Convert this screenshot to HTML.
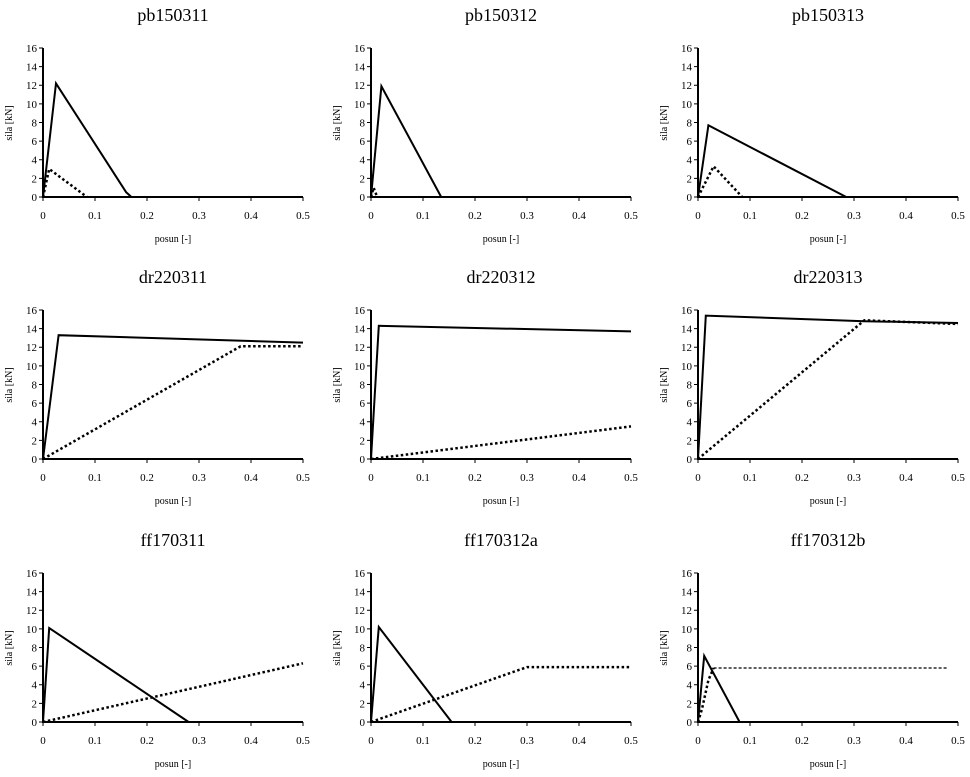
<!DOCTYPE html>
<html><head><meta charset="utf-8"><style>
html,body{margin:0;padding:0;background:#fff;}
svg{display:block;font-family:"Liberation Serif",serif;}
.ax{stroke:#000;stroke-width:2;fill:none}
.tk{stroke:#000;stroke-width:1}
.s{stroke:#000;stroke-width:2;fill:none;stroke-linejoin:miter}
.d{stroke:#000;stroke-width:2.5;fill:none;stroke-dasharray:2.5 2.5}
.d2{stroke:#000;stroke-width:1.2;fill:none;stroke-dasharray:3 2}
.yl{font-size:11px;text-anchor:end}
.xl{font-size:11px;text-anchor:middle}
.t{font-size:18px;text-anchor:middle}
.lb{font-size:10px;text-anchor:middle}
</style></head><body>
<svg width="970" height="777" viewBox="0 0 970 777" xmlns="http://www.w3.org/2000/svg">
<defs>
<g id="axes">
<path class="ax" d="M0,0V149H260"/>
<path class="tk" d="M-4,0H0M-4,18.6H0M-4,37.25H0M-4,55.9H0M-4,74.5H0M-4,93.1H0M-4,111.75H0M-4,130.4H0M-4,149H0"/>
<path class="tk" d="M0,149v4M52,149v4M104,149v4M156,149v4M208,149v4M260,149v4"/>
</g>
</defs>
<!-- generic panel text written out per panel -->
<!-- Panel 1 -->
<g transform="translate(43,48)">
<use href="#axes"/>
<text class="t" x="130" y="-27">pb150311</text>
<g class="yl"><text x="-6" y="4">16</text><text x="-6" y="22.6">14</text><text x="-6" y="41.2">12</text><text x="-6" y="59.9">10</text><text x="-6" y="78.5">8</text><text x="-6" y="97.1">6</text><text x="-6" y="115.7">4</text><text x="-6" y="134.4">2</text><text x="-6" y="153">0</text></g>
<g class="xl"><text x="0" y="171">0</text><text x="52" y="171">0.1</text><text x="104" y="171">0.2</text><text x="156" y="171">0.3</text><text x="208" y="171">0.4</text><text x="260" y="171">0.5</text></g>
<text class="lb" x="130" y="194">posun [-]</text>
<text class="lb" transform="translate(-31,75) rotate(-90)">sila [kN]</text>
<polyline class="d" points="0,149 6.2,121 44,149"/>
<polyline class="s" points="0,149 13,35.4 83.2,144.3 88.4,149 260,149"/>
</g>
<!-- Panel 2 -->
<g transform="translate(371,48)">
<use href="#axes"/>
<text class="t" x="130" y="-27">pb150312</text>
<g class="yl"><text x="-6" y="4">16</text><text x="-6" y="22.6">14</text><text x="-6" y="41.2">12</text><text x="-6" y="59.9">10</text><text x="-6" y="78.5">8</text><text x="-6" y="97.1">6</text><text x="-6" y="115.7">4</text><text x="-6" y="134.4">2</text><text x="-6" y="153">0</text></g>
<g class="xl"><text x="0" y="171">0</text><text x="52" y="171">0.1</text><text x="104" y="171">0.2</text><text x="156" y="171">0.3</text><text x="208" y="171">0.4</text><text x="260" y="171">0.5</text></g>
<text class="lb" x="130" y="194">posun [-]</text>
<text class="lb" transform="translate(-31,75) rotate(-90)">sila [kN]</text>
<polyline class="d" points="0,149 2.6,139.7 6.2,149"/>
<polyline class="s" points="0,149 10.4,38.2 70.2,149 260,149"/>
</g>
<!-- Panel 3 -->
<g transform="translate(698,48)">
<use href="#axes"/>
<text class="t" x="130" y="-27">pb150313</text>
<g class="yl"><text x="-6" y="4">16</text><text x="-6" y="22.6">14</text><text x="-6" y="41.2">12</text><text x="-6" y="59.9">10</text><text x="-6" y="78.5">8</text><text x="-6" y="97.1">6</text><text x="-6" y="115.7">4</text><text x="-6" y="134.4">2</text><text x="-6" y="153">0</text></g>
<g class="xl"><text x="0" y="171">0</text><text x="52" y="171">0.1</text><text x="104" y="171">0.2</text><text x="156" y="171">0.3</text><text x="208" y="171">0.4</text><text x="260" y="171">0.5</text></g>
<text class="lb" x="130" y="194">posun [-]</text>
<text class="lb" transform="translate(-31,75) rotate(-90)">sila [kN]</text>
<polyline class="d" points="0,149 15.6,118.3 44.2,149"/>
<polyline class="s" points="0,149 10.4,77.3 148.2,149 260,149"/>
</g>
<!-- Panel 4 -->
<g transform="translate(43,310)">
<use href="#axes"/>
<text class="t" x="130" y="-27">dr220311</text>
<g class="yl"><text x="-6" y="4">16</text><text x="-6" y="22.6">14</text><text x="-6" y="41.2">12</text><text x="-6" y="59.9">10</text><text x="-6" y="78.5">8</text><text x="-6" y="97.1">6</text><text x="-6" y="115.7">4</text><text x="-6" y="134.4">2</text><text x="-6" y="153">0</text></g>
<g class="xl"><text x="0" y="171">0</text><text x="52" y="171">0.1</text><text x="104" y="171">0.2</text><text x="156" y="171">0.3</text><text x="208" y="171">0.4</text><text x="260" y="171">0.5</text></g>
<text class="lb" x="130" y="194">posun [-]</text>
<text class="lb" transform="translate(-31,75) rotate(-90)">sila [kN]</text>
<polyline class="d" points="0,149 197.6,36.3 260,36.3"/>
<polyline class="s" points="0,149 15.6,25.2 260,32.6"/>
</g>
<!-- Panel 5 -->
<g transform="translate(371,310)">
<use href="#axes"/>
<text class="t" x="130" y="-27">dr220312</text>
<g class="yl"><text x="-6" y="4">16</text><text x="-6" y="22.6">14</text><text x="-6" y="41.2">12</text><text x="-6" y="59.9">10</text><text x="-6" y="78.5">8</text><text x="-6" y="97.1">6</text><text x="-6" y="115.7">4</text><text x="-6" y="134.4">2</text><text x="-6" y="153">0</text></g>
<g class="xl"><text x="0" y="171">0</text><text x="52" y="171">0.1</text><text x="104" y="171">0.2</text><text x="156" y="171">0.3</text><text x="208" y="171">0.4</text><text x="260" y="171">0.5</text></g>
<text class="lb" x="130" y="194">posun [-]</text>
<text class="lb" transform="translate(-31,75) rotate(-90)">sila [kN]</text>
<polyline class="d" points="0,149 260,116.4"/>
<polyline class="s" points="0,149 7.8,15.8 260,21.4"/>
</g>
<!-- Panel 6 -->
<g transform="translate(698,310)">
<use href="#axes"/>
<text class="t" x="130" y="-27">dr220313</text>
<g class="yl"><text x="-6" y="4">16</text><text x="-6" y="22.6">14</text><text x="-6" y="41.2">12</text><text x="-6" y="59.9">10</text><text x="-6" y="78.5">8</text><text x="-6" y="97.1">6</text><text x="-6" y="115.7">4</text><text x="-6" y="134.4">2</text><text x="-6" y="153">0</text></g>
<g class="xl"><text x="0" y="171">0</text><text x="52" y="171">0.1</text><text x="104" y="171">0.2</text><text x="156" y="171">0.3</text><text x="208" y="171">0.4</text><text x="260" y="171">0.5</text></g>
<text class="lb" x="130" y="194">posun [-]</text>
<text class="lb" transform="translate(-31,75) rotate(-90)">sila [kN]</text>
<polyline class="d" points="0,149 166.4,10.3 260,14"/>
<polyline class="s" points="0,149 7.8,5.6 166.4,11.2 260,13"/>
</g>
<!-- Panel 7 -->
<g transform="translate(43,573)">
<use href="#axes"/>
<text class="t" x="130" y="-27">ff170311</text>
<g class="yl"><text x="-6" y="4">16</text><text x="-6" y="22.6">14</text><text x="-6" y="41.2">12</text><text x="-6" y="59.9">10</text><text x="-6" y="78.5">8</text><text x="-6" y="97.1">6</text><text x="-6" y="115.7">4</text><text x="-6" y="134.4">2</text><text x="-6" y="153">0</text></g>
<g class="xl"><text x="0" y="171">0</text><text x="52" y="171">0.1</text><text x="104" y="171">0.2</text><text x="156" y="171">0.3</text><text x="208" y="171">0.4</text><text x="260" y="171">0.5</text></g>
<text class="lb" x="130" y="194">posun [-]</text>
<text class="lb" transform="translate(-31,75) rotate(-90)">sila [kN]</text>
<polyline class="d" points="0,149 260,90.3"/>
<polyline class="s" points="0,149 6.2,55 145.6,149"/>
</g>
<!-- Panel 8 -->
<g transform="translate(371,573)">
<use href="#axes"/>
<text class="t" x="130" y="-27">ff170312a</text>
<g class="yl"><text x="-6" y="4">16</text><text x="-6" y="22.6">14</text><text x="-6" y="41.2">12</text><text x="-6" y="59.9">10</text><text x="-6" y="78.5">8</text><text x="-6" y="97.1">6</text><text x="-6" y="115.7">4</text><text x="-6" y="134.4">2</text><text x="-6" y="153">0</text></g>
<g class="xl"><text x="0" y="171">0</text><text x="52" y="171">0.1</text><text x="104" y="171">0.2</text><text x="156" y="171">0.3</text><text x="208" y="171">0.4</text><text x="260" y="171">0.5</text></g>
<text class="lb" x="130" y="194">posun [-]</text>
<text class="lb" transform="translate(-31,75) rotate(-90)">sila [kN]</text>
<polyline class="d" points="0,149 156,94.1 260,94.1"/>
<polyline class="s" points="0,149 7.8,54 80.6,149"/>
</g>
<!-- Panel 9 -->
<g transform="translate(698,573)">
<use href="#axes"/>
<text class="t" x="130" y="-27">ff170312b</text>
<g class="yl"><text x="-6" y="4">16</text><text x="-6" y="22.6">14</text><text x="-6" y="41.2">12</text><text x="-6" y="59.9">10</text><text x="-6" y="78.5">8</text><text x="-6" y="97.1">6</text><text x="-6" y="115.7">4</text><text x="-6" y="134.4">2</text><text x="-6" y="153">0</text></g>
<g class="xl"><text x="0" y="171">0</text><text x="52" y="171">0.1</text><text x="104" y="171">0.2</text><text x="156" y="171">0.3</text><text x="208" y="171">0.4</text><text x="260" y="171">0.5</text></g>
<text class="lb" x="130" y="194">posun [-]</text>
<text class="lb" transform="translate(-31,75) rotate(-90)">sila [kN]</text>
<polyline class="d" points="0,149 4,136 10.4,107.1 15.6,95"/>
<polyline class="d2" points="15.6,95 249.6,95"/>
<polyline class="s" points="0,149 6.2,82.9 41.6,149"/>
</g>
</svg>
</body></html>
